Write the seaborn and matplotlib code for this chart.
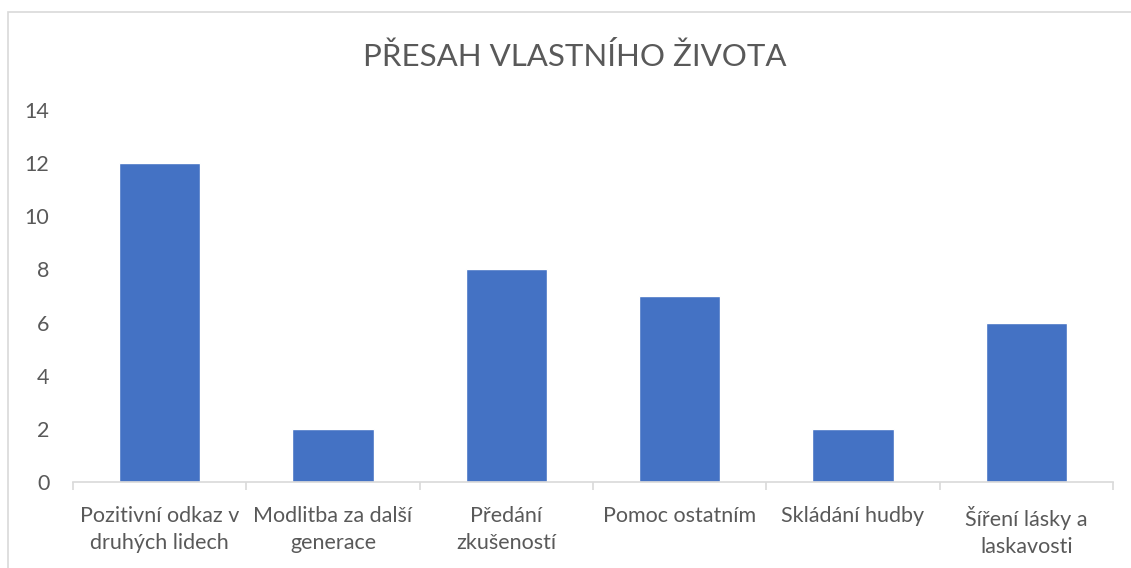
import matplotlib
matplotlib.use("Agg")
import matplotlib.pyplot as plt
import seaborn as sns
import pandas as pd
from matplotlib.patches import Rectangle
from matplotlib.ticker import FixedLocator

categories = ["Pozitivní odkaz v\ndruhých lidech", "Modlitba za další\ngenerace", "Předání\nzkušeností",
              "Pomoc ostatním", "Skládání hudby", "Šíření lásky a\nlaskavosti"]
values = [12, 2, 8, 7, 2, 6]
yticks = [0, 2, 4, 6, 8, 10, 12, 14]
title = "PŘESAH VLASTNÍHO ŽIVOTA"

sns.set_theme(style="white")
plt.rcParams['font.family'] = ['Lato', 'DejaVu Sans']
txt = "#595959"

df = pd.DataFrame({"cat": categories, "val": values})
fig = plt.figure(figsize=(11.31, 5.68), dpi=100)
ax = fig.add_axes([73/1131, 1 - 482/568, (1113-73)/1131, (482-110)/568])
sns.barplot(data=df, x="cat", y="val", color="#4472C4", width=0.47, saturation=1, ax=ax)
ax.set_xlim(-0.5, len(categories) - 0.5)
ax.set_ylim(0, 14)
ax.set_yticks(yticks)
ax.set_xlabel("")
ax.set_ylabel("")
for s in ["top", "right", "left"]:
    ax.spines[s].set_visible(False)
ax.spines["bottom"].set_color("#d9d9d9")
ax.spines["bottom"].set_linewidth(1.2)
ax.xaxis.set_minor_locator(FixedLocator([i - 0.5 for i in range(len(categories) + 1)]))
ax.tick_params(axis="x", which="minor", bottom=True, length=6, color="#d9d9d9", width=1.2)
ax.tick_params(axis="x", which="major", bottom=False, length=0, pad=17, labelsize=15.5, labelcolor=txt)
ax.tick_params(axis="y", left=False, length=0, pad=17, labelsize=15.5, labelcolor=txt)
for lab in ax.get_xticklabels():
    lab.set_linespacing(1.45)
ax.grid(False)

fig.text(575/1131, 1 - 57/568, title, ha="center", va="center", fontsize=22.5, color=txt)
fig.patches.append(Rectangle((8/1131, -0.1), 2, 1.1 - 12/568, transform=fig.transFigure,
                             fill=False, edgecolor="#d9d9d9", linewidth=1.2))
fig.savefig("out.png", dpi=100)
